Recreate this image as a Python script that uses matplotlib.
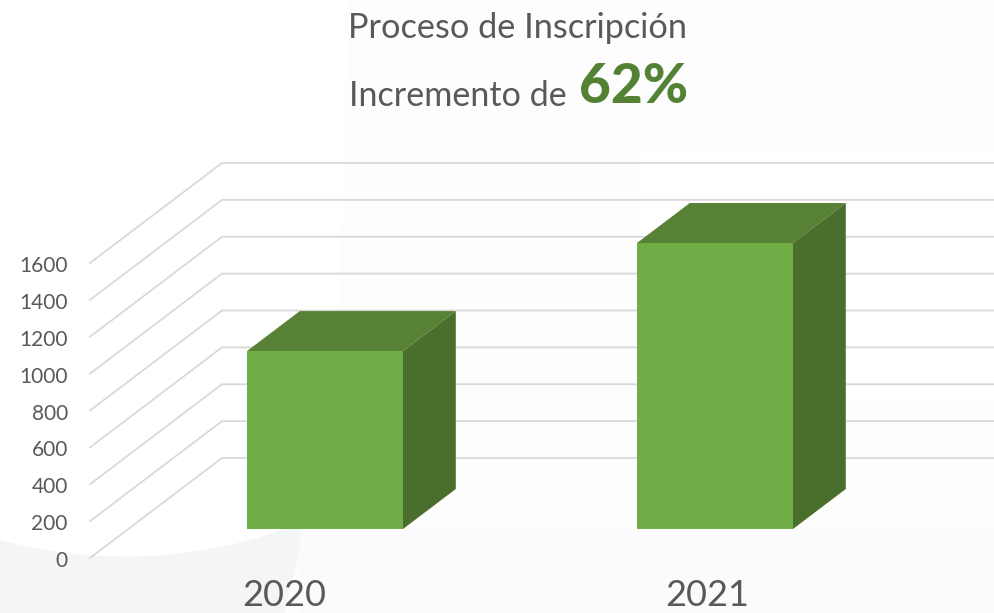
import matplotlib
matplotlib.use('Agg')
from matplotlib import pyplot as plt
from matplotlib.patches import Ellipse, Polygon, Rectangle
from matplotlib.transforms import ScaledTranslation

years = ['2020', '2021']
inscripciones = [965, 1551]
ticks_valor = [0, 200, 400, 600, 800, 1000, 1200, 1400, 1600]

VERDE = '#70ad47'
VERDE_TOP = '#578235'
VERDE_LADO = '#4a6e2b'
GRIS = '#595959'
LINEA = '#d9d9d9'

plt.rcParams['font.family'] = ['Lato', 'DejaVu Sans']

W, H = 995, 613
fig = plt.figure(figsize=(W / 100, H / 100), dpi=100)

# fondo (en pixeles)
bg = fig.add_axes([0, 0, 1, 1], zorder=0)
bg.set_xlim(0, W)
bg.set_ylim(H, 0)
bg.axis('off')
bg.add_patch(Rectangle((0, 0), W, H, color='white'))
bg.add_patch(Rectangle((0, 500), 310, H - 500, color='#f4f5f7'))
bg.add_patch(Ellipse((125, 300), 700, 512, color='white'))
bg.add_patch(Polygon([(350, 0), (W, 0), (W, 150), (640, 150), (640, 400), (W, 400), (W, H), (285, H), (305, 530), (340, 300)],
                     color='#fdfdfe'))
bg.add_patch(Rectangle((300, 530), W - 300, H - 530, color='#fbfbfd'))

# grafico: x en categorias, y en valor
ax = fig.add_axes([90 / W, (H - 558) / H, (W - 90) / W, (558 - 162) / H], zorder=1)
ax.patch.set_alpha(0)
px_x = 390
px_y = 295 / 1600
x0 = 286.7  # pixel de la primera categoria en el plano del eje
ax.set_xlim((90 - x0) / px_x, (W - x0) / px_x)
ax.set_ylim(0, (558 - 162) / px_y)
for s in ax.spines.values():
    s.set_visible(False)
ax.set_xticks([])
ax.set_yticks(ticks_valor)
ax.tick_params(axis='y', length=0, pad=16, labelsize=15, labelcolor=GRIS)
baja = ScaledTranslation(0, -1 / 100, fig.dpi_scale_trans)
for lab in ax.get_yticklabels():
    lab.set_verticalalignment('center_baseline')
    lab.set_transform(lab.get_transform() + baja)

DX = 132 / px_x
DY = 100 / px_y
x_izq = ax.get_xlim()[0]
x_der = ax.get_xlim()[1]

for t in ticks_valor:
    ax.plot([x_izq, x_izq + DX, x_der], [t, t + DY, t + DY], color=LINEA, lw=1.3,
            clip_on=False, zorder=1, solid_joinstyle='miter')


def punto(x, d, v):
    return (x + DX * d, v + DY * d)


ancho = 0.4
d0, d1 = 0.29, 0.69
for i, v in enumerate(inscripciones):
    a, b = i - ancho / 2, i + ancho / 2
    ax.add_patch(Polygon([punto(a, d0, v), punto(b, d0, v), punto(b, d1, v), punto(a, d1, v)],
                         color=VERDE_TOP, lw=0, zorder=3))
    ax.add_patch(Polygon([punto(b, d0, 0), punto(b, d1, 0), punto(b, d1, v), punto(b, d0, v)],
                         color=VERDE_LADO, lw=0, zorder=3))
    ax.add_patch(Polygon([punto(a, d0, 0), punto(b, d0, 0), punto(b, d0, v), punto(a, d0, v)],
                         color=VERDE, lw=0, zorder=4))

# textos
bg.text(518, 28, 'Proceso de Inscripción', fontsize=24.7, color=GRIS, ha='center', va='center')
bg.text(349, 96, 'Incremento de', fontsize=24.6, color=GRIS, ha='left', va='center')
bg.text(579, 87, '62%', fontsize=39.5, color='#548235', fontweight='black', ha='left', va='center')
bg.text(284, 596, years[0], fontsize=26, color=GRIS, ha='center', va='center')
bg.text(707, 596, years[1], fontsize=26, color=GRIS, ha='center', va='center')

fig.savefig('out.png', dpi=100)
